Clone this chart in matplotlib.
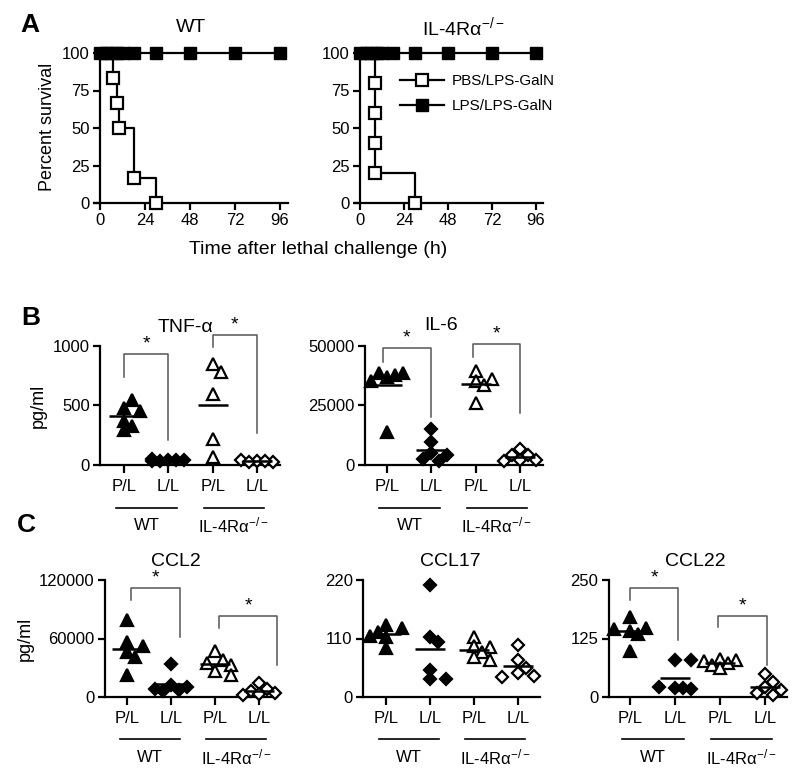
import numpy as np
import matplotlib
matplotlib.use('Agg')
import matplotlib.pyplot as plt
from matplotlib.transforms import blended_transform_factory
from matplotlib.lines import Line2D

plt.rcParams['font.family'] = ['Liberation Sans', 'DejaVu Sans']
plt.rcParams['mathtext.fontset'] = 'custom'
plt.rcParams['mathtext.rm'] = 'Liberation Sans'
plt.rcParams['mathtext.it'] = 'Liberation Sans:italic'
plt.rcParams['mathtext.bf'] = 'Liberation Sans:bold'

KO = 'IL-4Rα$^{-/-}$'

# ---------------- Panel A data (Kaplan-Meier) ----------------
a_xticks = [0, 24, 48, 72, 96]
a_yticks = [0, 25, 50, 75, 100]
wt_pbs_t = [0, 7, 9, 10, 18, 30]
wt_pbs_s = [100, 83.3, 66.7, 50, 16.7, 0]
wt_lps_t = [0, 3, 6, 9, 12, 18, 30, 48, 72, 96]
wt_lps_s = [100, 100, 100, 100, 100, 100, 100, 100, 100, 100]
ko_pbs_t = [0, 8, 8, 8, 8, 30]
ko_pbs_s = [100, 80, 60, 40, 20, 0]
ko_lps_t = [0, 3, 6, 9, 12, 18, 30, 48, 72, 96]
ko_lps_s = [100, 100, 100, 100, 100, 100, 100, 100, 100, 100]
legend_labels = ['PBS/LPS-GalN', 'LPS/LPS-GalN']

# ---------------- Panel B/C data ----------------
group_ticks = ['P/L', 'L/L', 'P/L', 'L/L']
group_names = ['WT', KO]

tnf_wt_pl = [480, 550, 450, 370, 330, 290]
tnf_wt_ll = [45, 38, 50, 30, 42, 35]
tnf_ko_pl = [850, 780, 600, 220, 70]
tnf_ko_ll = [35, 28, 40, 25, 32]

il6_wt_pl = [37000, 38500, 35500, 38500, 38000, 14000]
il6_wt_ll = [15000, 9500, 5000, 4000, 2500, 1500]
il6_ko_pl = [39500, 35500, 33500, 36000, 26000]
il6_ko_ll = [6700, 4200, 4000, 2000, 2200, 1500]

ccl2_wt_pl = [79000, 56000, 46000, 52000, 41000, 23000]
ccl2_wt_ll = [34000, 12000, 10000, 8000, 7000, 6000]
ccl2_ko_pl = [47000, 38000, 35000, 33000, 27000, 23000]
ccl2_ko_ll = [14000, 8000, 6000, 4000, 3000, 2000]

ccl17_wt_pl = [135, 113, 130, 92, 115, 123]
ccl17_wt_ll = [210, 113, 104, 51, 33, 33]
ccl17_ko_pl = [113, 95, 94, 85, 75, 70]
ccl17_ko_ll = [98, 70, 55, 45, 40, 38]

ccl22_wt_pl = [172, 142, 147, 145, 99, 135]
ccl22_wt_ll = [79, 79, 20, 18, 22, 20]
ccl22_ko_pl = [82, 80, 76, 72, 68, 62]
ccl22_ko_ll = [50, 32, 22, 15, 8, 4]

W, H = 800, 775
fig = plt.figure(figsize=(W / 100, H / 100), dpi=100)


def place(xd, xp, yd, yp, xlim, ylim):
    sx = (xp[1] - xp[0]) / (xd[1] - xd[0])
    left = xp[0] + (xlim[0] - xd[0]) * sx
    right = xp[0] + (xlim[1] - xd[0]) * sx
    sy = (yp[1] - yp[0]) / (yd[1] - yd[0])
    top = yp[0] + (ylim[1] - yd[0]) * sy
    bot = yp[0] + (ylim[0] - yd[0]) * sy
    ax = fig.add_axes([left / W, 1 - bot / H, (right - left) / W, (bot - top) / H])
    ax.set_xlim(xlim)
    ax.set_ylim(ylim)
    ax.patch.set_alpha(0)
    return ax


def style(ax, tick_fs=12):
    for s in ['top', 'right']:
        ax.spines[s].set_visible(False)
    for s in ['left', 'bottom']:
        ax.spines[s].set_linewidth(1.6)
    ax.tick_params(width=1.6, length=5, labelsize=tick_fs, pad=2.5)


def ftext(x, y, s, **kw):
    fig.text(x / W, 1 - y / H, s, ha='center', va='center', **kw)


# ---------------- Panel A ----------------
def surv_panel(xp, pbs_t, pbs_s, lps_t, lps_s, ylab):
    ax = place((0, 96), xp, (0, 100), (203, 53), (-3, 100), (-4, 106))
    style(ax)
    ax.spines['bottom'].set_position(('data', 0))
    ax.spines['left'].set_position(('data', 0))
    ax.spines['left'].set_bounds(0, 100)
    ax.set_xticks(a_xticks)
    ax.set_yticks(a_yticks)
    ax.step(lps_t, lps_s, where='post', color='k', lw=1.6, clip_on=False,
            zorder=3)
    ax.plot(lps_t, lps_s, 's', color='k', ms=8, clip_on=False, zorder=4)
    ax.step(pbs_t, pbs_s, where='post', color='k', lw=1.6, clip_on=False,
            zorder=3)
    ax.plot(pbs_t[1:], pbs_s[1:], 's', mfc='white', mec='k', mew=1.6, ms=8,
            clip_on=False, zorder=5)
    if ylab:
        ax.set_ylabel('Percent survival', fontsize=13, labelpad=4)
    return ax


axA1 = surv_panel((100, 280), wt_pbs_t, wt_pbs_s, wt_lps_t, wt_lps_s, True)
axA2 = surv_panel((360, 536), ko_pbs_t, ko_pbs_s, ko_lps_t, ko_lps_s, False)
ftext(191, 27, 'WT', fontsize=14)
ftext(463, 27, KO, fontsize=14)
ftext(318, 250, 'Time after lethal challenge (h)', fontsize=14)
ftext(30, 25, 'A', fontsize=19, fontweight='bold')

handles = [Line2D([0], [0], color='k', lw=1.6, marker='s', mfc='white',
                  mec='k', mew=1.6, ms=8),
           Line2D([0], [0], color='k', lw=1.6, marker='s', mfc='k', mec='k',
                  ms=8)]
axA2.legend(handles, legend_labels, frameon=False, loc='upper left',
            bbox_to_anchor=(400 / W, 1 - 74 / H), bbox_transform=fig.transFigure,
            handlelength=2.9, fontsize=11, labelspacing=0.75,
            handletextpad=0.5, borderaxespad=0, borderpad=0)


# ---------------- dot panels ----------------
def swarm_x(ax, xc, vals, marker_px=9.0, step_px=8.0):
    """Place points side by side like a column scatter, allowing overlap
    when the column would get too wide."""
    placed = []
    xs = []
    inv = ax.transData.inverted()
    ks = [0, 1, -1, 2, -2]
    for v in vals:
        px, py = ax.transData.transform((xc, v))
        best, best_d = px, -1.0
        chosen = None
        for k in ks:
            cx = px + k * step_px
            d = min([np.hypot(cx - qx, py - qy) for qx, qy in placed] + [1e9])
            if d >= marker_px:
                chosen = cx
                break
            if d > best_d:
                best, best_d = cx, d
        if chosen is None:
            chosen = best
        placed.append((chosen, py))
        xs.append(inv.transform((chosen, py))[0])
    return xs


def dot_panel(xp, yp, ymax, xlim, yticks, groups, title, title_xy, brackets,
              line_y, text_y, ylab=False):
    ax = place((1, 4), xp, (0, ymax), yp, xlim, (0, ymax))
    style(ax)
    ax.set_xticks([1, 2, 3, 4])
    ax.set_xticklabels(group_ticks)
    ax.set_yticks(yticks)
    ax.tick_params(axis='x', length=6, pad=4)
    markers = [('^', 'k', 8.5), ('D', 'k', 6.5), ('^', 'white', 8.5),
               ('D', 'white', 6.5)]
    for i, vals in enumerate(groups):
        xc = i + 1
        m, fc, ms = markers[i]
        xs = swarm_x(ax, xc, vals)
        ax.plot(xs, vals, m, mfc=fc, mec='k', mew=1.6, ms=ms, ls='none',
                clip_on=False, zorder=3)
        mean = float(np.mean(vals))
        ax.plot([xc - 0.34, xc + 0.34], [mean, mean], color='k', lw=1.8,
                solid_capstyle='butt', clip_on=False, zorder=4)
    for (x1, x2, top, lb, rb) in brackets:
        ax.plot([x1, x1, x2, x2], [lb, top, top, rb], color='#555555', lw=1.1,
                clip_on=False)
        ax.annotate('*', ((x1 + x2) / 2, top), xytext=(0, 1),
                    textcoords='offset points', ha='center', va='bottom',
                    fontsize=14, annotation_clip=False)
    ftext(title_xy[0], title_xy[1], title, fontsize=14)
    tr = blended_transform_factory(ax.transData, fig.transFigure)
    for (a, b), name in zip([(0.83, 2.2), (2.8, 4.15)], group_names):
        ax.plot([a, b], [1 - line_y / H] * 2, color='k', lw=1.2,
                transform=tr, clip_on=False)
        ax.text((a + b) / 2, 1 - text_y / H, name, transform=tr, ha='center',
                va='center', fontsize=12)
    if ylab:
        ax.set_ylabel('pg/ml', fontsize=13, labelpad=4)
    return ax


axT = dot_panel((124, 257), (465, 346), 1000, (0.46, 4.52), [0, 500, 1000],
                [tnf_wt_pl, tnf_wt_ll, tnf_ko_pl, tnf_ko_ll], 'TNF-α',
                (185, 328),
                [(1, 2, 933, 740, 210), (3, 4, 1092, 992, 269)], 508, 525,
                ylab=True)
axI = dot_panel((387, 520), (465, 346), 50000, (0.5, 4.52),
                [0, 25000, 50000],
                [il6_wt_pl, il6_wt_ll, il6_ko_pl, il6_ko_ll], 'IL-6',
                (441, 325),
                [(0.9, 2, 49200, 43300, 20200), (2.95, 4, 50800, 45400, 21800)],
                508, 525)
ftext(31, 318, 'B', fontsize=19, fontweight='bold')

axC2 = dot_panel((127, 259), (697, 580), 120000, (0.5, 4.41),
                 [0, 60000, 120000],
                 [ccl2_wt_pl, ccl2_wt_ll, ccl2_ko_pl, ccl2_ko_ll], 'CCL2',
                 (176, 562),
                 [(1.1, 2.2, 111800, 99500, 61500),
                  (3.1, 4.4, 83000, 70800, 32800)], 739, 757, ylab=True)
axC17 = dot_panel((386, 518), (697, 580), 220, (0.48, 4.5), [0, 110, 220],
                  [ccl17_wt_pl, ccl17_wt_ll, ccl17_ko_pl, ccl17_ko_ll],
                  'CCL17', (450, 561), [], 739, 757)
axC22 = dot_panel((630, 765), (697, 580), 250, (0.53, 4.49), [0, 125, 250],
                  [ccl22_wt_pl, ccl22_wt_ll, ccl22_ko_pl, ccl22_ko_ll],
                  'CCL22', (695, 562),
                  [(1, 2.07, 233, 207, 122), (2.96, 4.04, 173, 150, 68)],
                  739, 757)
ftext(26, 525, 'C', fontsize=19, fontweight='bold')

fig.savefig('out.png', dpi=100)
